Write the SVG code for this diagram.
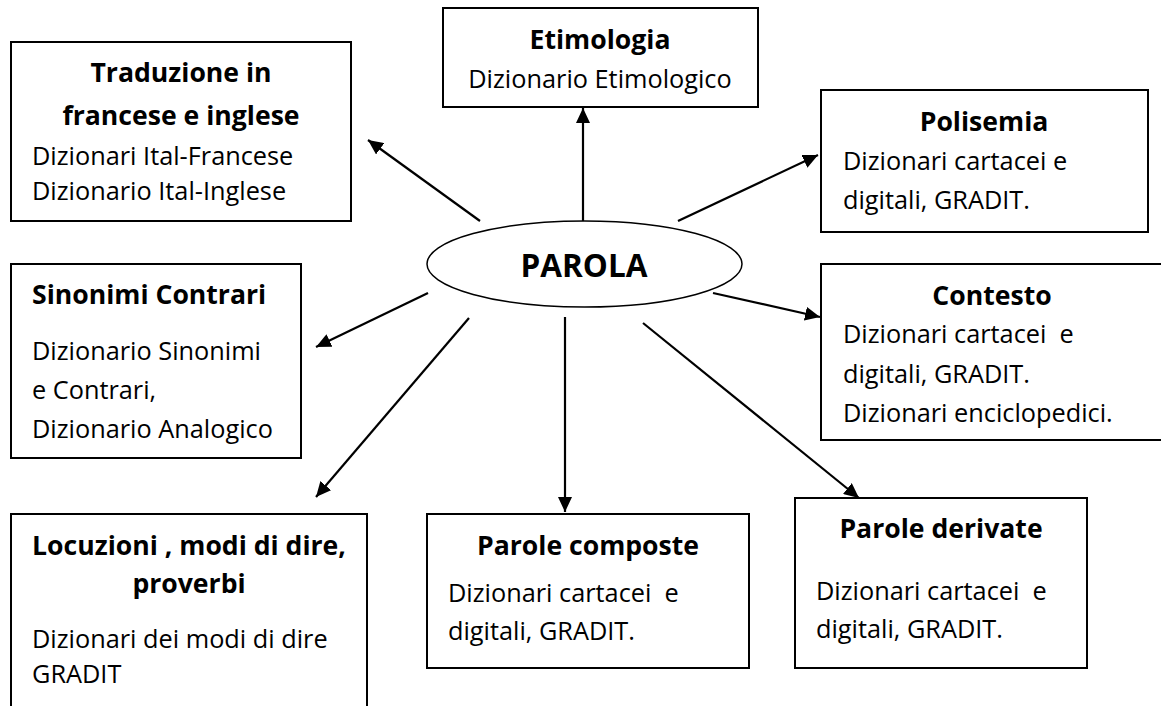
<svg xmlns="http://www.w3.org/2000/svg" width="1161" height="706" viewBox="0 0 1161 706">
<style>
.box{fill:#fff;stroke:#000;stroke-width:2}
.t{font-family:"Open Sans","Liberation Sans",sans-serif;font-size:25.3px;fill:#000}
.b{font-family:"Open Sans","Liberation Sans",sans-serif;font-size:26.6px;font-weight:bold;fill:#000}
.c{text-anchor:middle}
.con line{stroke:#000;stroke-width:2.2;marker-end:url(#ah)}
</style>
<defs>
<marker id="ah" markerUnits="userSpaceOnUse" markerWidth="16" markerHeight="14" refX="15" refY="7" orient="auto">
<path d="M0,0 L15,7 L0,14 z" fill="#000"/>
</marker>
</defs>
<rect width="1161" height="706" fill="#fff"/>
<g id="traduzione">
<rect class="box" x="11" y="42" width="340" height="179"/>
<text class="b c" x="181" y="82">Traduzione in</text>
<text class="b c" x="181" y="125">francese e inglese</text>
<text class="t" x="32" y="165">Dizionari Ital-Francese</text>
<text class="t" x="32" y="200">Dizionario Ital-Inglese</text>
</g>
<g id="etimologia">
<rect class="box" x="443" y="8" width="315" height="99"/>
<text class="b c" x="600" y="49">Etimologia</text>
<text class="t c" x="600" y="88">Dizionario Etimologico</text>
</g>
<g id="polisemia">
<rect class="box" x="821" y="90" width="327" height="142"/>
<text class="b c" x="984" y="131">Polisemia</text>
<text class="t" x="843" y="170">Dizionari cartacei e</text>
<text class="t" x="843" y="209">digitali, GRADIT.</text>
</g>
<g id="parola">
<ellipse cx="584.5" cy="264" rx="157.5" ry="43" fill="#fff" stroke="#000" stroke-width="1.5"/>
<text class="b c" x="584" y="277" style="font-size:31.5px">PAROLA</text>
</g>
<g id="sinonimi">
<rect class="box" x="11" y="264" width="290" height="194"/>
<text class="b" x="32" y="304">Sinonimi Contrari</text>
<text class="t" x="32" y="360">Dizionario Sinonimi</text>
<text class="t" x="32" y="399">e Contrari,</text>
<text class="t" x="32" y="438">Dizionario Analogico</text>
</g>
<g id="contesto">
<rect class="box" x="821" y="264" width="360" height="176"/>
<text class="b c" x="992" y="305">Contesto</text>
<text class="t" x="843" y="343" xml:space="preserve">Dizionari cartacei  e</text>
<text class="t" x="843" y="383">digitali, GRADIT.</text>
<text class="t" x="843" y="422">Dizionari enciclopedici.</text>
</g>
<g id="locuzioni">
<rect class="box" x="11" y="514" width="356" height="210"/>
<text class="b c" x="189" y="555">Locuzioni , modi di dire,</text>
<text class="b c" x="189" y="593">proverbi</text>
<text class="t" x="32" y="648">Dizionari dei modi di dire</text>
<text class="t" x="32" y="683">GRADIT</text>
</g>
<g id="composte">
<rect class="box" x="427" y="514" width="322" height="154"/>
<text class="b c" x="588" y="555">Parole composte</text>
<text class="t" x="448" y="602" xml:space="preserve">Dizionari cartacei  e</text>
<text class="t" x="448" y="640">digitali, GRADIT.</text>
</g>
<g id="derivate">
<rect class="box" x="795" y="498" width="292" height="170"/>
<text class="b c" x="941" y="538">Parole derivate</text>
<text class="t" x="816" y="600" xml:space="preserve">Dizionari cartacei  e</text>
<text class="t" x="816" y="638">digitali, GRADIT.</text>
</g>
<g id="connectors" class="con">
<line x1="480" y1="221" x2="368" y2="140"/>
<line x1="583" y1="221" x2="583" y2="108"/>
<line x1="678" y1="221" x2="818" y2="155"/>
<line x1="713" y1="293" x2="820" y2="317"/>
<line x1="428" y1="293" x2="316" y2="347"/>
<line x1="469" y1="318" x2="316" y2="497"/>
<line x1="565" y1="317" x2="565" y2="512"/>
<line x1="643" y1="323" x2="859" y2="498"/>
</g>
</svg>
